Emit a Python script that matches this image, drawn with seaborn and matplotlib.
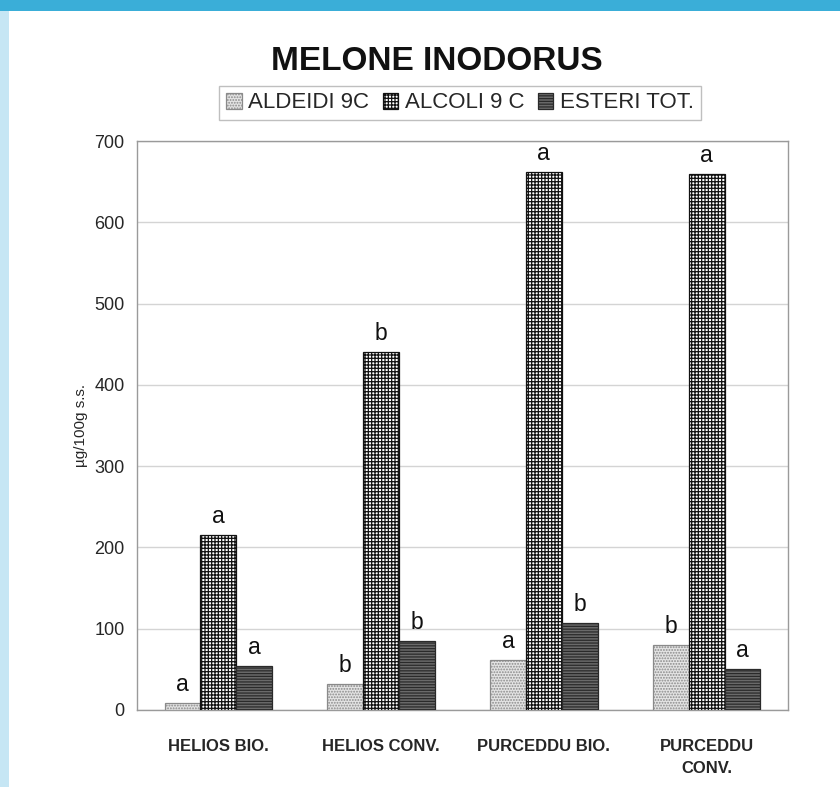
import matplotlib
matplotlib.use("Agg")
import matplotlib.pyplot as plt
import seaborn as sns
import pandas as pd
from matplotlib.patches import Patch, Rectangle
from matplotlib.ticker import FixedLocator

# ---------------- data ----------------
categories = ["HELIOS BIO.", "HELIOS CONV.", "PURCEDDU BIO.", "PURCEDDU\nCONV."]
series = ["ALDEIDI 9C", "ALCOLI 9 C", "ESTERI TOT."]
aldeidi = [9, 32, 62, 80]
alcoli = [215, 440, 662, 660]
esteri = [54, 85, 107, 50]
letters_aldeidi = ["a", "b", "a", "b"]
letters_alcoli = ["a", "b", "a", "a"]
letters_esteri = ["a", "b", "b", "a"]
yticks = [0, 100, 200, 300, 400, 500, 600, 700]
title = "MELONE INODORUS"
ylabel = "µg/100g s.s."

values = [aldeidi, alcoli, esteri]
letters = [letters_aldeidi, letters_alcoli, letters_esteri]

rows = []
for s, vals in zip(series, values):
    for c, v in zip(categories, vals):
        rows.append({"cat": c, "series": s, "val": v})
df = pd.DataFrame(rows)

# ---------------- style ----------------
sns.set_style("white")
plt.rcParams["font.family"] = ["Liberation Sans", "DejaVu Sans"]
plt.rcParams["hatch.linewidth"] = 0.9

styles = [
    dict(face="#e4e4e4", edge="#8a8a8a", hatch="......"),
    dict(face="#ffffff", edge="#111111", hatch="+++++"),
    dict(face="#6a6a6a", edge="#2a2a2a", hatch="------"),
]

W, H = 840, 787
fig = plt.figure(figsize=(W / 100, H / 100), dpi=100)
fig.patch.set_facecolor("white")

# decorative page bands
fig.patches.append(Rectangle((0, 1 - 11 / H), 1, 11 / H, transform=fig.transFigure,
                             facecolor="#3aaed8", edgecolor="none", zorder=-1))
fig.patches.append(Rectangle((0, 0), 9 / W, 1 - 11 / H, transform=fig.transFigure,
                             facecolor="#c6e6f4", edgecolor="none", zorder=-1))

left, right, top, bottom = 137, 788, 141, 710
ax = fig.add_axes([left / W, 1 - bottom / H, (right - left) / W, (bottom - top) / H])

sns.barplot(data=df, x="cat", y="val", hue="series", order=categories,
            hue_order=series, width=0.66, errorbar=None, saturation=1,
            palette=[s["face"] for s in styles], legend=False, ax=ax, zorder=3)

for cont, st, lets in zip(ax.containers, styles, letters):
    for bar, l in zip(cont, lets):
        bar.set_facecolor(st["face"])
        bar.set_edgecolor(st["edge"])
        bar.set_hatch(st["hatch"])
        bar.set_linewidth(0.9)
        ax.annotate(l, (bar.get_x() + bar.get_width() / 2, bar.get_height()),
                    xytext=(0, 5), textcoords="offset points",
                    ha="center", va="bottom", fontsize=16.5, color="#111")

ax.set_ylim(0, 700)
ax.set_xlim(-0.5, len(categories) - 0.5)
ax.set_yticks(yticks)
ax.set_yticklabels([str(t) for t in yticks], fontsize=13)
ax.yaxis.grid(True, color="#d4d4d4", linewidth=1, zorder=0)
ax.set_axisbelow(True)

ax.set_xlabel("")
ax.set_ylabel(ylabel, fontsize=11)
ax.yaxis.set_label_coords(-0.075, 0.5)

ax.set_xticks(range(len(categories)))
ax.set_xticklabels(categories, fontsize=12, fontweight="bold", linespacing=1.6)
ax.tick_params(axis="x", which="major", length=0, pad=21)
ax.xaxis.set_minor_locator(FixedLocator([i - 0.5 for i in range(len(categories) + 1)]))
ax.tick_params(axis="x", which="minor", length=4, color="#999", direction="out")
ax.tick_params(axis="y", length=4, color="#999", direction="out", pad=5)

for sp in ax.spines.values():
    sp.set_visible(True)
    sp.set_color("#9a9a9a")
    sp.set_linewidth(1)

fig.text(0.52, 1 - 62 / H, title, ha="center", va="center",
         fontsize=24, fontweight="bold", color="#111")

handles = [Patch(facecolor=s["face"], edgecolor=s["edge"], hatch=s["hatch"], linewidth=0.9)
           for s in styles]
leg = fig.legend(handles, series, loc="center", bbox_to_anchor=(460 / W, 1 - 103 / H),
                 ncol=3, frameon=True, fancybox=False, edgecolor="#b0b0b0",
                 handlelength=0.7, handleheight=0.7, handletextpad=0.3,
                 columnspacing=0.6, fontsize=16, borderpad=0.3)
leg.get_frame().set_linewidth(1)

fig.savefig("out.png", dpi=100)
